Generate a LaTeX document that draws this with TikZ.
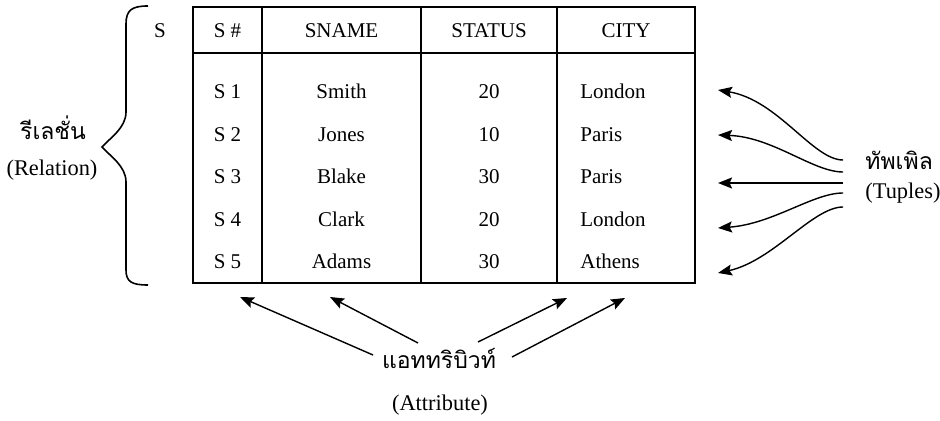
\documentclass[tikz,border=0pt]{standalone}
\usepackage{fontspec}
\setmainfont{Liberation Serif}
\newfontfamily\thaifont[Script=Thai]{Loma}
\usetikzlibrary{arrows.meta,positioning}

\begin{document}
\begin{tikzpicture}[
    x=0.5pt, y=-0.5pt,
    cell/.style={inner sep=0pt, text height=6.9pt, text depth=0pt, font=\fontsize{10.5}{12}\selectfont},
    caption/.style={inner sep=0pt, font=\fontsize{11.2}{13}\selectfont},
    thai/.style={inner sep=0pt, font=\thaifont\fontsize{11.5}{14}\selectfont},
    tableline/.style={line width=0.8pt},
    pointer/.style={-{Stealth[length=7pt,width=5.5pt,inset=1.2pt]}, line width=0.7pt}
]
    \useasboundingbox (0,0) rectangle (940,421);

    % relation brace
    \draw[line width=0.8pt] (148,6) .. controls (132,6) and (126,10) .. (126,24) -- (126,112)
        .. controls (126,128) and (110,138) .. (102,147)
        .. controls (110,156) and (126,166) .. (126,182) -- (126,270)
        .. controls (126,282) and (132,285) .. (148,285);
    \node[thai] (relth) at (53,128) {รีเลชั่น};
    \node[caption] (releng) at (52,170) {(Relation)};
    \node[cell] (sname) at (160,31) {S};

    % table
    \draw[tableline] (193,7) rectangle (695,283);
    \draw[tableline] (193,53) -- (695,53);
    \foreach \x in {262,421,557}
        \draw[tableline] (\x,7) -- (\x,283);

    \node[cell] (hid) at (227.5,31) {S \#};
    \node[cell] (hname) at (341.5,31) {SNAME};
    \node[cell] (hstatus) at (489,31) {STATUS};
    \node[cell] (hcity) at (626,31) {CITY};

    \foreach \sid/\sname/\sstatus/\scity [count=\i] in
        {S 1/Smith/20/London, S 2/Jones/10/Paris, S 3/Blake/30/Paris,
         S 4/Clark/20/London, S 5/Adams/30/Athens}
    {
        \pgfmathsetmacro\ry{49.5+42.5*\i}
        \node[cell] (id\i) at (227.5,\ry) {\sid};
        \node[cell] (name\i) at (341.5,\ry) {\sname};
        \node[cell] (status\i) at (489,\ry) {\sstatus};
        \node[cell, anchor=west] (city\i) at (580,\ry) {\scity};
    }

    % tuples
    \node[thai, anchor=west] (tupth) at (865,160) {ทัพเพิล};
    \node[caption, anchor=west] (tupeng) at (865,193) {(Tuples)};
    \coordinate (t1) at (843,160);  \coordinate (p1) at (718,90);
    \coordinate (t2) at (843,172);  \coordinate (p2) at (718,135);
    \coordinate (t3) at (843,183);  \coordinate (p3) at (718,183);
    \coordinate (t4) at (843,193);  \coordinate (p4) at (718,228);
    \coordinate (t5) at (843,207);  \coordinate (p5) at (718,273);
    \draw[pointer] (t1) .. controls +(-30,0) and +(60,10) .. (p1);
    \draw[pointer] (t2) .. controls +(-30,0) and +(55,2) .. (p2);
    \draw[pointer] (t3) -- (p3);
    \draw[pointer] (t4) .. controls +(-30,0) and +(55,-4) .. (p4);
    \draw[pointer] (t5) .. controls +(-30,0) and +(55,-12) .. (p5);

    % attributes
    \node[thai] (attth) at (439,358) {แอททริบิวท์};
    \node[caption] (atteng) at (440,405) {(Attribute)};
    \coordinate (a1) at (373,355);  \coordinate (q1) at (240,297);
    \coordinate (a2) at (418,343);  \coordinate (q2) at (330,297);
    \coordinate (a3) at (478,342);  \coordinate (q3) at (567,298);
    \coordinate (a4) at (512,357);  \coordinate (q4) at (625,298);
    \foreach \i in {1,...,4}
        \draw[pointer] (a\i) -- (q\i);
\end{tikzpicture}
\end{document}
